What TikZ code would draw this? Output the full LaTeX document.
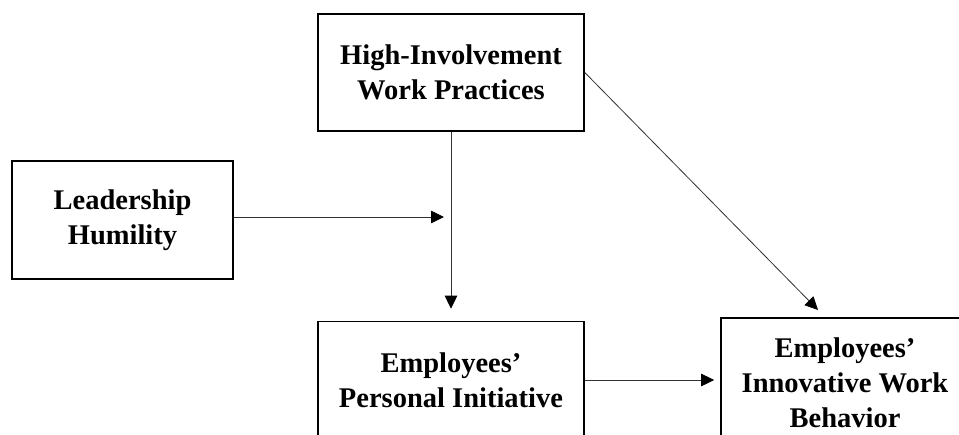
\documentclass[tikz,border=0pt]{standalone}
\usepackage{fontspec}
\setmainfont{Liberation Serif}
\usetikzlibrary{arrows.meta}
\begin{document}
\begin{tikzpicture}[x=1pt,y=-1pt,>={Triangle[length=13pt,width=12.5pt,color=black]}]
        \tikzstyle{construct}=[draw=black,line width=1.6pt,align=center,inner sep=0pt,
          font=\fontsize{28.5}{35}\selectfont\bfseries]
        \tikzstyle{edge}=[draw=black!80,line width=0.8pt,->]
        \useasboundingbox (0,0) rectangle (959,434);
        \clip (0,0) rectangle (959,434);
       \begin{scope}
         \node [construct,minimum width=266pt,minimum height=117pt] (hiwp) at (451,72.5) {High-Involvement\\Work Practices};
         \node [construct,minimum width=221pt,minimum height=118pt] (lh) at (122.5,220) {Leadership\\Humility};
         \node [construct,minimum width=266pt,minimum height=117pt] (epi) at (451,380) {Employees'\\Personal Initiative};
         \node [construct,minimum width=248pt,minimum height=130pt] (iwb) at (845,383) {Employees'\\Innovative Work\\Behavior};
         \coordinate (tip) at (818,310);
         \path (hiwp.south) edge [edge,shorten >=12pt] (epi.north);
         \path (lh.east |- 0,217) edge [edge,shorten >=7pt] (hiwp.south |- 0,217);
         \path (hiwp.east) edge [edge] (tip);
         \path (epi.east) edge [edge,shorten >=6pt] (epi.east -| iwb.west);
        \end{scope}
      \end{tikzpicture}
\end{document}
